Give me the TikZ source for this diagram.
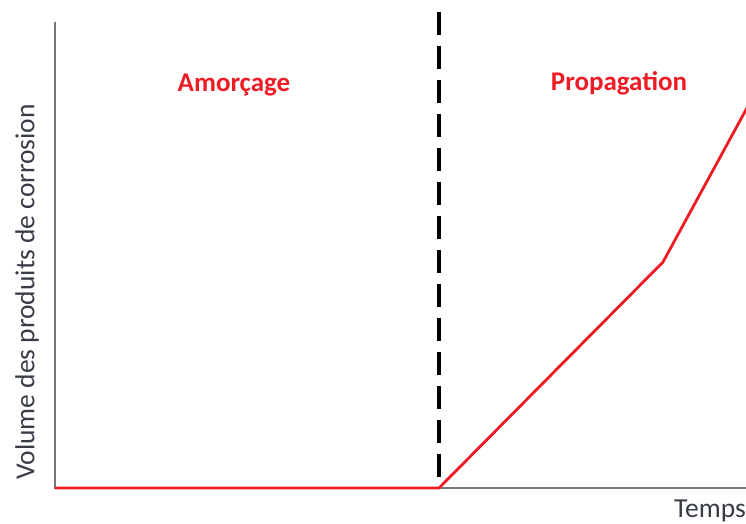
\documentclass[tikz,border=0pt]{standalone}
\usepackage{fontspec}
\setmainfont{Carlito}
\definecolor{cred}{RGB}{237,28,36}
\definecolor{axisgray}{RGB}{120,120,120}
\definecolor{txt}{RGB}{55,60,70}
\begin{document}
\begin{tikzpicture}[x=1pt,y=-1pt,
  axis/.style={draw=axisgray,line width=1.3pt},
  curve/.style={draw=cred,line width=2.8pt,line join=round},
  phase/.style={text=cred,font=\fontsize{27}{32}\selectfont\bfseries},
  lbl/.style={text=txt,font=\fontsize{27.5}{32}\selectfont}]
\useasboundingbox (0,0) rectangle (746,523);
\coordinate (O) at (55,488);
\coordinate (Ytop) at (55,22);
\coordinate (Xend) at (746,488);
\coordinate (D) at (439,488);
\coordinate (Dtop) at (439,12);
\coordinate (K) at (663,262);
\coordinate (E) at (748,106);
\draw[axis] (Ytop) -- (O) -- (Xend);
\draw[black,line width=3.4pt,dash pattern=on 23pt off 11pt] (Dtop) -- (D);
\draw[curve] (O) -- (D) -- (K) -- (E);
\node[phase] (am) at (234,85) {Amorçage};
\node[phase] (pr) at (619,83) {Propagation};
\node[lbl,rotate=90] (yl) at (27,292) {Volume des produits de corrosion};
\node[lbl,anchor=west,inner sep=0pt] (tl) at (674,511) {Temps};
\end{tikzpicture}
\end{document}
